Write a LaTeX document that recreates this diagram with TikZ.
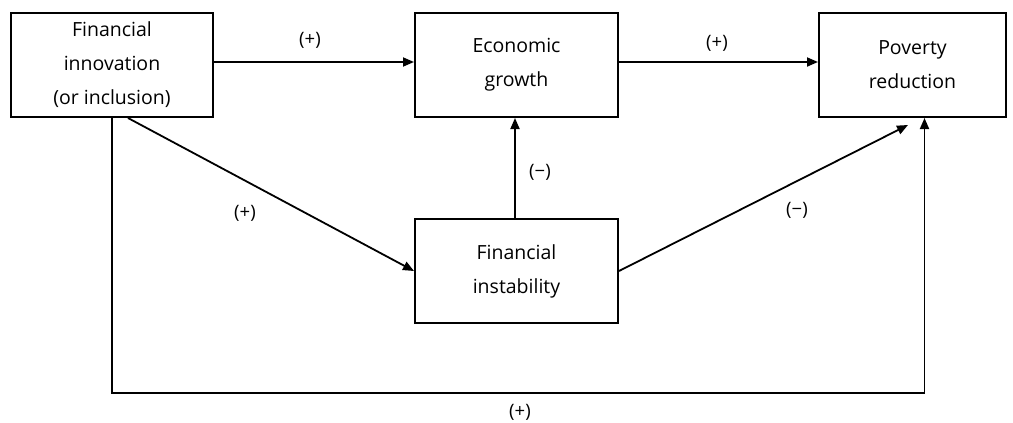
\documentclass[tikz,border=0pt]{standalone}
\usepackage{fontspec}
\setmainfont{Open Sans}
\usetikzlibrary{arrows.meta}
\begin{document}
\begin{tikzpicture}[x=1pt,y=-1pt,
  box/.style={draw,line width=2pt,inner sep=0pt,minimum height=104pt,align=center,
    font=\fontsize{19.5}{34}\selectfont},
  arr/.style={line width=1.8pt,-{Triangle[length=11pt,width=9pt]}},
  lbl/.style={font=\fontsize{18.5}{20}\selectfont,inner sep=0pt}]
\useasboundingbox (0,0) rectangle (1013,423);
\node[box,minimum width=202pt] (A) at (112,65) {Financial\\innovation\\(or inclusion)};
\node[box,minimum width=203pt] (B) at (516.5,65) {Economic\\growth};
\node[box,minimum width=187pt] (C) at (912.5,65) {Poverty\\reduction};
\node[box,minimum width=203pt] (D) at (516.5,271) {Financial\\instability};
\coordinate (Cin) at (908,125);
\draw[arr] ([yshift=3pt]A.east) -- ([yshift=3pt]B.west);
\draw[arr] ([yshift=3pt]B.east) -- ([yshift=3pt]C.west);
\draw[arr] ([xshift=-1.5pt]D.north) -- ([xshift=-1.5pt]B.south);
\draw[arr] ([xshift=16pt]A.south) -- (D.west);
\draw[arr] (D.east) -- (Cin);
\draw[arr] (A.south) -- ++(0,275) -| ([xshift=12pt]C.south);
\node[lbl] (l1) at (310,40) {(+)};
\node[lbl] (l2) at (717,43) {(+)};
\node[lbl] (l3) at (540,172) {(−)};
\node[lbl] (l4) at (245,213) {(+)};
\node[lbl] (l5) at (797,210) {(−)};
\node[lbl] (l6) at (520,412) {(+)};
\end{tikzpicture}
\end{document}
